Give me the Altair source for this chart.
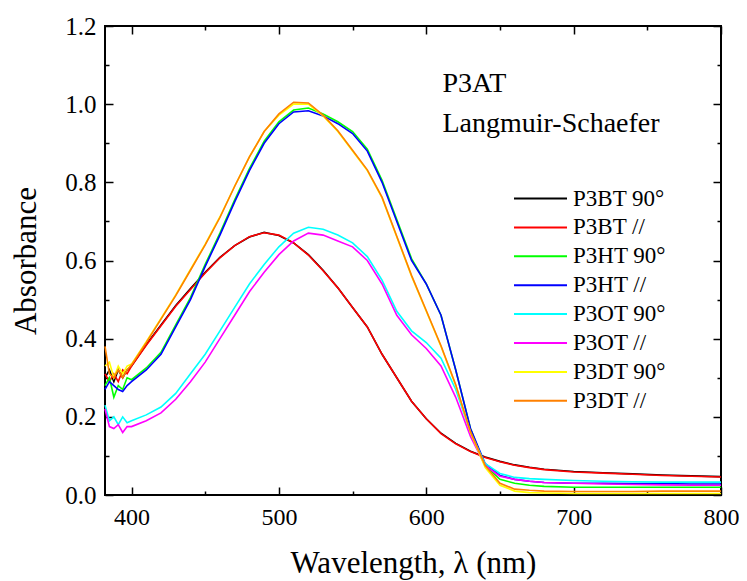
import altair as alt
import pandas as pd

series = ["P3BT 90°", "P3BT //", "P3HT 90°", "P3HT //",
          "P3OT 90°", "P3OT //", "P3DT 90°", "P3DT //"]
colors = ["#000000", "#ff0000", "#00ff00", "#0000ff",
          "#00ffff", "#ff00ff", "#ffff00", "#ff8000"]

wl = [382, 385, 388, 391, 394, 397, 400, 410, 420, 430, 440, 450, 460, 470,
      480, 490, 500, 510, 520, 530, 540, 550, 560, 570, 580, 590, 600, 610,
      620, 630, 640, 650, 660, 670, 680, 700, 720, 740, 760, 780, 800]

p3bt_90 = [0.30, 0.32, 0.29, 0.32, 0.30, 0.32, 0.33, 0.385, 0.435, 0.485, 0.528,
           0.57, 0.608, 0.638, 0.660, 0.672, 0.664, 0.645, 0.615, 0.575, 0.53,
           0.48, 0.43, 0.36, 0.30, 0.24, 0.195, 0.158, 0.132, 0.112, 0.097,
           0.086, 0.077, 0.071, 0.066, 0.060, 0.057, 0.054, 0.051, 0.049, 0.047]
p3bt_par = [0.31, 0.29, 0.31, 0.29, 0.32, 0.31, 0.33, 0.383, 0.433, 0.483, 0.526,
            0.568, 0.607, 0.638, 0.661, 0.671, 0.665, 0.645, 0.614, 0.574, 0.53,
            0.48, 0.43, 0.36, 0.30, 0.24, 0.195, 0.157, 0.131, 0.111, 0.096,
            0.085, 0.076, 0.070, 0.065, 0.059, 0.056, 0.053, 0.050, 0.048, 0.046]
p3ht_90 = [0.28, 0.30, 0.25, 0.28, 0.27, 0.30, 0.295, 0.325, 0.365, 0.435, 0.505,
           0.59, 0.67, 0.755, 0.835, 0.905, 0.955, 0.985, 0.99, 0.975, 0.955,
           0.93, 0.885, 0.805, 0.705, 0.605, 0.54, 0.46, 0.32, 0.17, 0.075,
           0.04, 0.03, 0.025, 0.022, 0.02, 0.02, 0.02, 0.02, 0.02, 0.02]
p3ht_par = [0.27, 0.29, 0.28, 0.27, 0.265, 0.28, 0.29, 0.32, 0.36, 0.43, 0.50,
            0.585, 0.665, 0.75, 0.83, 0.90, 0.95, 0.98, 0.983, 0.97, 0.95,
            0.925, 0.88, 0.80, 0.70, 0.60, 0.54, 0.46, 0.32, 0.17, 0.08,
            0.05, 0.04, 0.035, 0.032, 0.03, 0.03, 0.029, 0.029, 0.028, 0.028]
p3ot_90 = [0.23, 0.19, 0.20, 0.18, 0.20, 0.185, 0.19, 0.205, 0.225, 0.26, 0.31,
           0.36, 0.42, 0.48, 0.54, 0.59, 0.635, 0.67, 0.685, 0.68, 0.665,
           0.645, 0.61, 0.55, 0.47, 0.42, 0.39, 0.35, 0.27, 0.16, 0.08,
           0.055, 0.045, 0.042, 0.04, 0.037, 0.035, 0.034, 0.033, 0.033, 0.033]
p3ot_par = [0.22, 0.175, 0.17, 0.18, 0.16, 0.175, 0.175, 0.19, 0.21, 0.245, 0.29,
            0.34, 0.40, 0.46, 0.52, 0.57, 0.615, 0.65, 0.67, 0.665, 0.65,
            0.635, 0.60, 0.54, 0.46, 0.41, 0.375, 0.33, 0.25, 0.15, 0.075,
            0.048, 0.04, 0.035, 0.032, 0.03, 0.028, 0.027, 0.026, 0.025, 0.025]
p3dt_90 = [0.33, 0.34, 0.30, 0.33, 0.31, 0.33, 0.335, 0.392, 0.452, 0.512, 0.577,
           0.642, 0.712, 0.79, 0.865, 0.93, 0.972, 1.0, 1.0, 0.97, 0.93,
           0.88, 0.83, 0.76, 0.66, 0.56, 0.47, 0.38, 0.28, 0.16, 0.07,
           0.025, 0.01, 0.006, 0.005, 0.004, 0.004, 0.004, 0.004, 0.004, 0.004]
p3dt_par = [0.38, 0.31, 0.30, 0.32, 0.30, 0.32, 0.333, 0.39, 0.45, 0.51, 0.575,
            0.64, 0.71, 0.79, 0.865, 0.93, 0.975, 1.005, 1.003, 0.972, 0.932,
            0.882, 0.832, 0.762, 0.662, 0.562, 0.472, 0.382, 0.282, 0.162, 0.075,
            0.03, 0.015, 0.012, 0.01, 0.009, 0.009, 0.009, 0.01, 0.01, 0.01]

values = [p3bt_90, p3bt_par, p3ht_90, p3ht_par, p3ot_90, p3ot_par, p3dt_90, p3dt_par]

rows = []
for s, vals in zip(series, values):
    for w, v in zip(wl, vals):
        rows.append({"series": s, "wl": w, "abs": v})
df = pd.DataFrame(rows)

x_major = [400, 500, 600, 700, 800]
x_minor = [450, 550, 650, 750]
y_major = [0.0, 0.2, 0.4, 0.6, 0.8, 1.0, 1.2]
y_minor = [0.1, 0.3, 0.5, 0.7, 0.9, 1.1]

notes = pd.DataFrame({"wl": [611, 611], "abs": [1.03, 0.93],
                      "text": ["P3AT", "Langmuir-Schaefer"]})

FONT = "Liberation Serif"
xs = alt.Scale(domain=[382, 800], nice=False, zero=False)
ys = alt.Scale(domain=[0, 1.2], nice=False)

def tick_axis(orient, vals, size, labels=False, **kw):
    return alt.Axis(orient=orient, values=vals, tickSize=size, offset=-size,
                    domain=False, grid=False, labels=labels, tickWidth=1.5,
                    tickColor="black", **kw)

lines = alt.Chart(df).mark_line(strokeWidth=1.6).encode(
    x=alt.X("wl:Q", scale=xs, title="Wavelength, λ (nm)",
            axis=tick_axis("bottom", x_major, 8, labels=True,
                           labelFont=FONT, labelFontSize=24, labelPadding=10,
                           labelFlush=False, labelOverlap=False,
                           labelColor="black", titleFont=FONT,
                           titleFontSize=31, titleFontWeight="normal",
                           titleColor="black", titlePadding=19)),
    y=alt.Y("abs:Q", scale=ys, title="Absorbance",
            axis=tick_axis("left", y_major, 8, labels=True, format=".1f",
                           labelFont=FONT, labelFontSize=25, labelPadding=9,
                           labelFlush=False, labelOverlap=False,
                           labelColor="black", titleFont=FONT,
                           titleFontSize=31, titleFontWeight="normal",
                           titleColor="black", titlePadding=22)),
    color=alt.Color("series:N", scale=alt.Scale(domain=series, range=colors),
                    sort=series,
                    legend=alt.Legend(title=None, orient="none", legendX=408,
                                      legendY=161, labelFont=FONT,
                                      labelFontSize=23, labelColor="black",
                                      symbolType="stroke", symbolSize=2809,
                                      symbolStrokeWidth=2, clipHeight=23,
                                      rowPadding=4.9, labelOffset=5,
                                      padding=0)),
    order=alt.Order("wl:Q"),
)

def ghost(xaxis, yaxis):
    return alt.Chart(df).mark_point(opacity=0, size=1).encode(
        x=alt.X("wl:Q", scale=xs, axis=xaxis, title=None),
        y=alt.Y("abs:Q", scale=ys, axis=yaxis, title=None),
    )

g1 = ghost(tick_axis("bottom", x_minor, 4), tick_axis("left", y_minor, 4))
g2 = ghost(tick_axis("top", x_major, 8), tick_axis("right", y_major, 8))
g3 = ghost(tick_axis("top", x_minor, 4), tick_axis("right", y_minor, 4))

text = alt.Chart(notes).mark_text(align="left", baseline="alphabetic",
                                  font=FONT, fontSize=28,
                                  color="black").encode(
    x=alt.X("wl:Q", scale=xs, axis=None),
    y=alt.Y("abs:Q", scale=ys, axis=None),
    text="text:N",
)

chart = alt.layer(lines, g1, g2, g3, text).resolve_axis(
    x="independent", y="independent"
).properties(
    width=616, height=469,
    autosize=alt.AutoSizeParams(type="none"),
    padding={"left": 97, "top": 18, "right": 18, "bottom": 86},
).configure_view(stroke="black", strokeWidth=2)

chart.save("out.html", embed_options={"renderer": "svg", "actions": False})
